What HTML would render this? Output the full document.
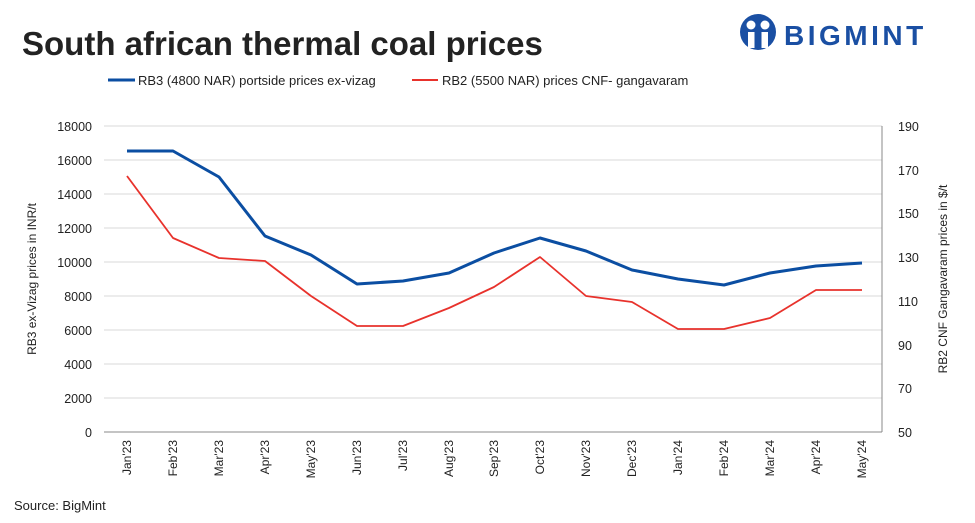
<!DOCTYPE html>
<html><head><meta charset="utf-8"><style>
body{margin:0;background:#fff;}
svg{display:block;font-family:"Liberation Sans",sans-serif;}
</style></head><body>
<svg width="975" height="523" viewBox="0 0 975 523" xmlns="http://www.w3.org/2000/svg">
<rect width="975" height="523" fill="#fff"/>
<text x="22" y="55" font-size="33" font-weight="bold" fill="#222">South african thermal coal prices</text>
<!-- logo -->
<g>
<circle cx="758" cy="32" r="18" fill="#1a4fa3"/>
<circle cx="751" cy="25" r="4.5" fill="#fff"/><circle cx="765" cy="25" r="4.5" fill="#fff"/>
<rect x="748" y="32" width="6.5" height="16" fill="#fff"/><rect x="761.5" y="32" width="6.5" height="16" fill="#fff"/>
<text x="784" y="45" font-size="28" font-weight="bold" fill="#1a4fa3" letter-spacing="3.5">BIGMINT</text>
</g>
<!-- legend -->
<line x1="108" y1="80" x2="135" y2="80" stroke="#0b4ea2" stroke-width="3"/>
<text x="138" y="85" font-size="13" fill="#222">RB3 (4800 NAR) portside prices ex-vizag</text>
<line x1="412" y1="80" x2="438" y2="80" stroke="#e8322c" stroke-width="2"/>
<text x="442" y="85" font-size="13" fill="#222">RB2 (5500 NAR) prices CNF- gangavaram</text>
<!-- grid -->
<g stroke="#d9d9d9" stroke-width="1">
<line x1="104" y1="126" x2="882" y2="126"/><line x1="104" y1="160" x2="882" y2="160"/>
<line x1="104" y1="194" x2="882" y2="194"/><line x1="104" y1="228" x2="882" y2="228"/>
<line x1="104" y1="262" x2="882" y2="262"/><line x1="104" y1="296" x2="882" y2="296"/>
<line x1="104" y1="330" x2="882" y2="330"/><line x1="104" y1="364" x2="882" y2="364"/>
<line x1="104" y1="398" x2="882" y2="398"/>
</g>
<line x1="104" y1="432" x2="882" y2="432" stroke="#888"/>
<line x1="882" y1="126" x2="882" y2="432" stroke="#888"/>
<g font-size="12.5" fill="#222" text-anchor="end">
<text x="92" y="131">18000</text><text x="92" y="165">16000</text><text x="92" y="199">14000</text>
<text x="92" y="233">12000</text><text x="92" y="267">10000</text><text x="92" y="301">8000</text>
<text x="92" y="335">6000</text><text x="92" y="369">4000</text><text x="92" y="403">2000</text>
<text x="92" y="437">0</text>
</g>
<g font-size="12.5" fill="#222">
<text x="898" y="131">190</text><text x="898" y="175">170</text><text x="898" y="218">150</text>
<text x="898" y="262">130</text><text x="898" y="306">110</text><text x="898" y="350">90</text>
<text x="898" y="393">70</text><text x="898" y="437">50</text>
</g>
<text transform="translate(36,279) rotate(-90)" font-size="12" fill="#222" text-anchor="middle">RB3 ex-Vizag prices in INR/t</text>
<text transform="translate(947,279) rotate(-90)" font-size="12" fill="#222" text-anchor="middle">RB2 CNF Gangavaram prices in $/t</text>
<g font-size="12" fill="#222" text-anchor="end">
<text transform="translate(131,440) rotate(-90)">Jan'23</text>
<text transform="translate(177,440) rotate(-90)">Feb'23</text>
<text transform="translate(223,440) rotate(-90)">Mar'23</text>
<text transform="translate(269,440) rotate(-90)">Apr'23</text>
<text transform="translate(315,440) rotate(-90)">May'23</text>
<text transform="translate(361,440) rotate(-90)">Jun'23</text>
<text transform="translate(407,440) rotate(-90)">Jul'23</text>
<text transform="translate(453,440) rotate(-90)">Aug'23</text>
<text transform="translate(498,440) rotate(-90)">Sep'23</text>
<text transform="translate(544,440) rotate(-90)">Oct'23</text>
<text transform="translate(590,440) rotate(-90)">Nov'23</text>
<text transform="translate(636,440) rotate(-90)">Dec'23</text>
<text transform="translate(682,440) rotate(-90)">Jan'24</text>
<text transform="translate(728,440) rotate(-90)">Feb'24</text>
<text transform="translate(774,440) rotate(-90)">Mar'24</text>
<text transform="translate(820,440) rotate(-90)">Apr'24</text>
<text transform="translate(866,440) rotate(-90)">May'24</text>
</g>
<polyline fill="none" stroke="#e8322c" stroke-width="1.8" stroke-linejoin="round" points="127,176 173,238 219,258 265,261 311,296 357,326 403,326 449,308 494,287 540,257 586,296 632,302 678,329 724,329 770,318 816,290 862,290"/>
<polyline fill="none" stroke="#0b4ea2" stroke-width="3" stroke-linejoin="round" points="127,151 173,151 219,177 265,236 311,255 357,284 403,281 449,273 494,253 540,238 586,251 632,270 678,279 724,285 770,273 816,266 862,263"/>
<text x="14" y="510" font-size="13" fill="#222">Source: BigMint</text>
</svg>
</body></html>
